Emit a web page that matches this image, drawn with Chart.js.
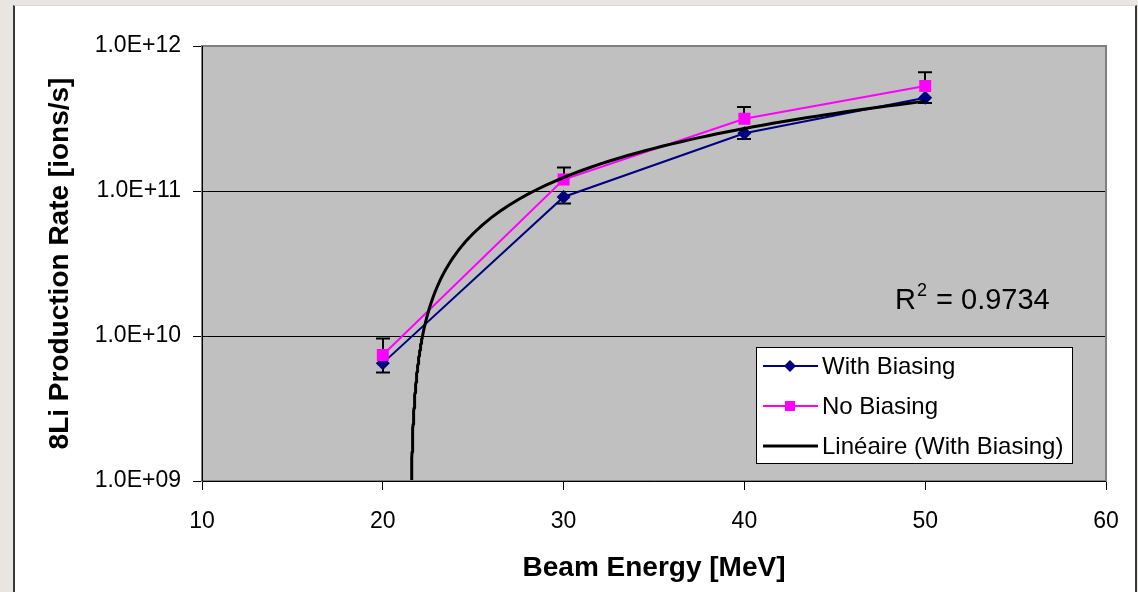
<!DOCTYPE html>
<html>
<head>
<meta charset="utf-8">
<script src="https://cdn.jsdelivr.net/npm/chart.js@4.4.1/dist/chart.umd.min.js"></script>
<style>
  html, body { margin: 0; padding: 0; width: 1138px; height: 592px; overflow: hidden; background: #e9e6e2; }
  #panel { position: absolute; left: 13px; top: 5px; width: 1120px; height: 640px; background: #ffffff;
           border-left: 2px solid #3a3a3a; border-right: 2px solid #3a3a3a; border-top: 1px solid #d8d8d8; }
  #c { position: absolute; left: 0; top: 0; }
</style>
</head>
<body>
<div id="panel"></div>
<canvas id="c" width="1138" height="592"></canvas>
<script>
// ---- data ----
const energies = [20, 30, 40, 50];
const withBiasing = [6.5e9, 9.1e10, 2.5e11, 4.4e11];
const withBiasingErrMinus = [0.9e9, 0.9e10, 2.2e10, 3.5e10];
const noBiasing = [7.4e9, 1.2e11, 3.15e11, 5.3e11];
const noBiasingErrPlus = [2.2e9, 2.5e10, 6.5e10, 1.3e11];
const yTickValues = [1e9, 1e10, 1e11, 1e12];
const xTickValues = [10, 20, 30, 40, 50, 60];
const rSquaredLabel = "0.9734";
const legendLabels = ["With Biasing", "No Biasing", "Linéaire (With Biasing)"];

// ---- linear trendline (least squares on With Biasing, as Excel does) ----
const n = energies.length;
const mx = energies.reduce((a, b) => a + b, 0) / n;
const my = withBiasing.reduce((a, b) => a + b, 0) / n;
let sxy = 0, sxx = 0;
for (let i = 0; i < n; i++) { sxy += (energies[i] - mx) * (withBiasing[i] - my); sxx += (energies[i] - mx) ** 2; }
const slope = sxy / sxx, intercept = my - slope * mx;
const xStart = (yTickValues[0] - intercept) / slope;
const trend = [{ x: xStart, y: yTickValues[0] }];
for (let k = 1; k <= 60; k++) { const x = xStart + k * 0.01; trend.push({ x: x, y: slope * x + intercept }); }
for (let k = 1; k <= 24; k++) { const x = xStart + 0.6 + k * 0.1; trend.push({ x: x, y: slope * x + intercept }); }
for (let x = Math.ceil(xStart + 3); x <= energies[n - 1]; x += 0.5) trend.push({ x: x, y: slope * x + intercept });

const FONT = "'Liberation Sans', Arial, sans-serif";
const NAVY = '#000080', PINK = '#ff00ff';

const bgPlugin = {
  id: 'bg',
  beforeDraw(chart) {
    const { ctx, chartArea: a } = chart;
    ctx.save();
    ctx.fillStyle = '#c0c0c0';
    ctx.fillRect(a.left, a.top, a.right - a.left, a.bottom - a.top);
    ctx.restore();
  },
  beforeDatasetsDraw(chart) {
    // error bars
    const { ctx, scales: { x, y } } = chart;
    ctx.save();
    ctx.strokeStyle = '#000';
    ctx.lineWidth = 2;
    const bar = (xv, v0, v1) => {
      const px = Math.round(x.getPixelForValue(xv));
      const p0 = y.getPixelForValue(v0), p1 = y.getPixelForValue(v1);
      ctx.beginPath();
      ctx.moveTo(px, p0); ctx.lineTo(px, p1);
      ctx.moveTo(px - 7, p1); ctx.lineTo(px + 7, p1);
      ctx.stroke();
    };
    for (let i = 0; i < n; i++) {
      bar(energies[i], noBiasing[i], noBiasing[i] + noBiasingErrPlus[i]);
      bar(energies[i], withBiasing[i], withBiasing[i] - withBiasingErrMinus[i]);
    }
    ctx.restore();
  },
  afterDraw(chart) {
    const { ctx, chartArea: a } = chart;
    ctx.save();
    // plot border
    ctx.strokeStyle = '#808080';
    ctx.lineWidth = 2;
    ctx.strokeRect(a.left, a.top, a.right - a.left, a.bottom - a.top);
    ctx.strokeStyle = '#000';
    ctx.lineWidth = 1;
    ctx.beginPath();
    ctx.moveTo(a.left + 0.5, a.top); ctx.lineTo(a.left + 0.5, a.bottom + 0.5);
    ctx.lineTo(a.right, a.bottom + 0.5);
    ctx.stroke();

    // R^2 label
    ctx.fillStyle = '#000';
    ctx.textBaseline = 'alphabetic';
    ctx.textAlign = 'left';
    ctx.font = '29px ' + FONT;
    let tx = 895, ty = 309;
    ctx.fillText('R', tx, ty);
    tx += ctx.measureText('R').width + 1;
    ctx.font = '18px ' + FONT;
    ctx.fillText('2', tx, ty - 13);
    tx += ctx.measureText('2').width + 1;
    ctx.font = '29px ' + FONT;
    ctx.fillText(' = ' + rSquaredLabel, tx, ty);

    // legend
    const L = 756.5, T = 347.5, W = 316, H = 116;
    ctx.fillStyle = '#fff';
    ctx.fillRect(L, T, W, H);
    ctx.strokeStyle = '#000';
    ctx.lineWidth = 1;
    ctx.strokeRect(L, T, W, H);
    const rows = [366, 406, 446];
    const styles = [
      { c: NAVY, w: 2, m: 'diamond' },
      { c: PINK, w: 2, m: 'square' },
      { c: '#000', w: 3, m: null }
    ];
    ctx.font = '24px ' + FONT;
    ctx.textBaseline = 'middle';
    rows.forEach((ry, i) => {
      const s = styles[i];
      ctx.strokeStyle = s.c; ctx.lineWidth = s.w;
      ctx.beginPath(); ctx.moveTo(763, ry); ctx.lineTo(818, ry); ctx.stroke();
      ctx.fillStyle = s.c;
      if (s.m === 'diamond') {
        ctx.beginPath();
        ctx.moveTo(790, ry - 6); ctx.lineTo(796, ry); ctx.lineTo(790, ry + 6); ctx.lineTo(784, ry);
        ctx.closePath(); ctx.fill();
      } else if (s.m === 'square') {
        ctx.fillRect(785, ry - 5, 10, 10);
      }
      ctx.fillStyle = '#000';
      ctx.fillText(legendLabels[i], 822, ry + 1);
    });
    ctx.restore();
  }
};

new Chart(document.getElementById('c'), {
  type: 'scatter',
  data: {
    datasets: [
      {
        label: legendLabels[2],
        data: trend,
        showLine: true,
        borderColor: '#000',
        borderWidth: 3,
        pointRadius: 0,
        tension: 0,
        borderJoinStyle: 'round',
        order: 0
      },
      {
        label: legendLabels[1],
        data: energies.map((e, i) => ({ x: e, y: noBiasing[i] })),
        showLine: true,
        borderColor: PINK,
        backgroundColor: PINK,
        borderWidth: 2,
        pointStyle: 'rect',
        pointRadius: 8.5,
        pointBorderWidth: 0,
        order: 1
      },
      {
        label: legendLabels[0],
        data: energies.map((e, i) => ({ x: e, y: withBiasing[i] })),
        showLine: true,
        borderColor: NAVY,
        backgroundColor: NAVY,
        borderWidth: 2,
        pointStyle: 'rectRot',
        pointRadius: 7,
        pointBorderWidth: 0,
        order: 2
      }
    ]
  },
  options: {
    responsive: false,
    animation: false,
    devicePixelRatio: 1,
    layout: { padding: { left: 0, top: 46, right: 32, bottom: 0 } },
    plugins: { legend: { display: false }, tooltip: { enabled: false } },
    scales: {
      x: {
        type: 'linear',
        min: 10, max: 60,
        afterBuildTicks: s => { s.ticks = xTickValues.map(v => ({ value: v })); },
        afterFit: s => { s.height = 111; },
        grid: { drawOnChartArea: false, color: '#000', tickColor: '#000', tickLength: 9, lineWidth: 1 },
        border: { display: false },
        ticks: { color: '#000', font: { family: FONT, size: 23 }, padding: 18, maxRotation: 0 },
        title: {
          display: true, text: 'Beam Energy [MeV]', color: '#000',
          font: { family: FONT, size: 28, weight: 'bold' },
          padding: { top: 0, bottom: 7 }
        }
      },
      y: {
        type: 'logarithmic',
        min: 1e9, max: 1e12,
        afterBuildTicks: s => { s.ticks = yTickValues.map(v => ({ value: v })); },
        afterFit: s => { s.width = 202; },
        grid: {
          color: ctx => (ctx.tick && (ctx.tick.value === 1e9 || ctx.tick.value === 1e12)) ? 'rgba(0,0,0,0)' : '#000',
          tickColor: '#000', tickLength: 9, lineWidth: 1
        },
        border: { display: false },
        ticks: {
          color: '#000', font: { family: FONT, size: 23 }, padding: 12,
          callback: v => {
            const e = Math.round(Math.log10(v));
            return '1.0E+' + String(e).padStart(2, '0');
          }
        },
        title: {
          display: true, text: '8Li Production Rate [ions/s]', color: '#000',
          font: { family: FONT, size: 28, weight: 'bold' },
          padding: { top: 43, bottom: 0 }
        }
      }
    }
  },
  plugins: [bgPlugin]
});
</script>
</body>
</html>
